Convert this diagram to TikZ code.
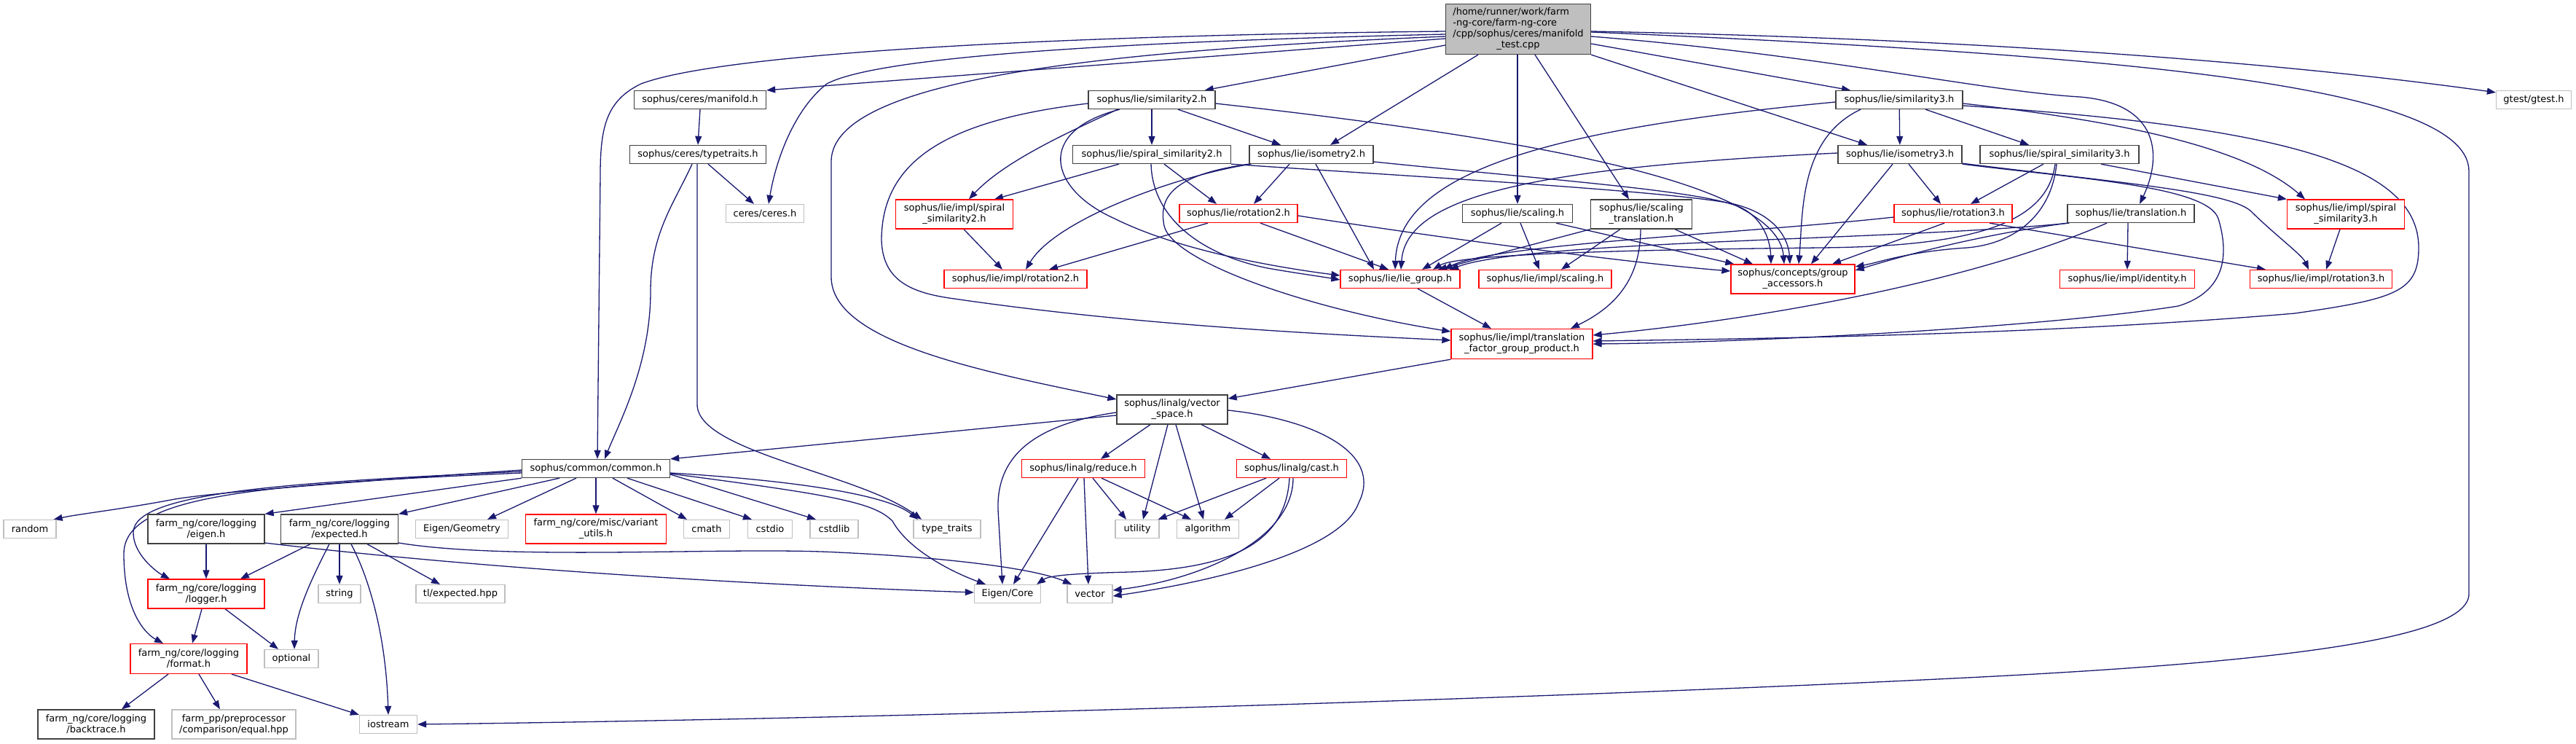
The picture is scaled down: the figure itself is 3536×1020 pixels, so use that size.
\documentclass[tikz,border=0pt]{standalone}
\usepackage{fontspec}
\setmainfont{DejaVu Sans}
\usetikzlibrary{arrows.meta}
\definecolor{edgec}{HTML}{191970}
\definecolor{leafc}{HTML}{BFBFBF}
\definecolor{docc}{HTML}{404040}
\pgfdeclarelayer{background}
\pgfsetlayers{background,main}
\begin{document}
\begin{tikzpicture}[x=1pt,y=-1pt,
  box/.style={draw, fill=white, minimum height=25, inner xsep=1pt, inner ysep=1pt, align=center, font=\fontsize{13}{15}\selectfont, line width=1.3},
  doc/.style={box, draw=docc},
  leaf/.style={box, draw=leafc},
  trunc/.style={box, draw=red},
  topnode/.style={box, draw=docc, fill=leafc, minimum height=69},
  e/.style={draw=edgec, line width=1.3, -{Triangle[length=12pt,width=9pt]}},
]
\useasboundingbox (0,0) rectangle (3536,1020);
% ---------------- nodes ----------------
\node[topnode, minimum width=199] (T) at (2084,40) {\begin{tabular}{@{}l@{}}/home/runner/work/farm\\-ng-core/farm-ng-core\\/cpp/sophus/ceres/manifold\\\multicolumn{1}{@{}c@{}}{\_test.cpp}\end{tabular}};
\node[doc, minimum width=181] (manifold) at (961,137) {sophus/ceres/manifold.h};
\node[doc, minimum width=187] (typetraits) at (958,212) {sophus/ceres/typetraits.h};
\node[leaf, minimum width=107] (ceres) at (1050,293) {ceres/ceres.h};
\node[doc, minimum width=174] (sim2) at (1581,137) {sophus/lie/similarity2.h};
\node[doc, minimum width=217] (ssim2) at (1581,212) {sophus/lie/spiral\_similarity2.h};
\node[doc, minimum width=170] (iso2) at (1800,212) {sophus/lie/isometry2.h};
\node[trunc, minimum width=161, minimum height=40] (impssim2) at (1310,294) {sophus/lie/impl/spiral\\\_similarity2.h};
\node[trunc, minimum width=162] (rot2) at (1700,293) {sophus/lie/rotation2.h};
\node[trunc, minimum width=196] (improt2) at (1394,383) {sophus/lie/impl/rotation2.h};
\node[trunc, minimum width=164] (liegroup) at (1922,383) {sophus/lie/lie\_group.h};
\node[trunc, minimum width=182] (impscaling) at (2121,383) {sophus/lie/impl/scaling.h};
\node[trunc, minimum width=170, minimum height=40] (grpacc) at (2461,383) {sophus/concepts/group\\\_accessors.h};
\node[trunc, minimum width=194, minimum height=41] (tfgp) at (2089,472) {sophus/lie/impl/translation\\\_factor\_group\_product.h};
\node[doc, minimum width=151] (scaling) at (2083,293) {sophus/lie/scaling.h};
\node[doc, minimum width=139, minimum height=40] (scaltr) at (2253,294) {sophus/lie/scaling\\\_translation.h};
\node[doc, minimum width=174] (sim3) at (2607,137) {sophus/lie/similarity3.h};
\node[doc, minimum width=170] (iso3) at (2608,212) {sophus/lie/isometry3.h};
\node[trunc, minimum width=162] (rot3) at (2681,293) {sophus/lie/rotation3.h};
\node[doc, minimum width=218] (ssim3) at (2827,212) {sophus/lie/spiral\_similarity3.h};
\node[doc, minimum width=174] (transl) at (2925,293) {sophus/lie/translation.h};
\node[trunc, minimum width=161, minimum height=40] (impssim3) at (3220,294) {sophus/lie/impl/spiral\\\_similarity3.h};
\node[trunc, minimum width=185] (impident) at (2920,383) {sophus/lie/impl/identity.h};
\node[trunc, minimum width=195] (improt3) at (3186,383) {sophus/lie/impl/rotation3.h};
\node[leaf, minimum width=103] (gtest) at (3478,137) {gtest/gtest.h};
\node[doc, minimum width=152, minimum height=40] (vecspace) at (1609,562) {sophus/linalg/vector\\\_space.h};
\node[doc, minimum width=203] (common) at (818,643) {sophus/common/common.h};
\node[trunc, minimum width=169] (reduce) at (1487,643) {sophus/linalg/reduce.h};
\node[trunc, minimum width=151] (cast) at (1773,643) {sophus/linalg/cast.h};
\node[leaf, minimum width=72] (random) at (41,726) {random};
\node[doc, minimum width=160, minimum height=40] (eigenh) at (283,726) {farm\_ng/core/logging\\/eigen.h};
\node[doc, minimum width=161, minimum height=40] (expected) at (466,726) {farm\_ng/core/logging\\/expected.h};
\node[leaf, minimum width=127] (eigengeo) at (634,726) {Eigen/Geometry};
\node[trunc, minimum width=193, minimum height=40] (variant) at (818,726) {farm\_ng/core/misc/variant\\\_utils.h};
\node[leaf, minimum width=63] (cmath) at (970,726) {cmath};
\node[leaf, minimum width=61] (cstdio) at (1057,726) {cstdio};
\node[leaf, minimum width=66] (cstdlib) at (1145,726) {cstdlib};
\node[leaf, minimum width=92] (typetr) at (1300,726) {type\_traits};
\node[leaf, minimum width=60] (utility) at (1561,726) {utility};
\node[leaf, minimum width=85] (algorithm) at (1658,726) {algorithm};
\node[trunc, minimum width=160, minimum height=40] (logger) at (283,815) {farm\_ng/core/logging\\/logger.h};
\node[leaf, minimum width=58] (string) at (466,815) {string};
\node[leaf, minimum width=122] (tlexp) at (632,815) {tl/expected.hpp};
\node[leaf, minimum width=91] (eigencore) at (1383,815) {Eigen/Core};
\node[leaf, minimum width=62] (vector) at (1496,815) {vector};
\node[trunc, minimum width=160, minimum height=41] (format) at (259,904) {farm\_ng/core/logging\\/format.h};
\node[leaf, minimum width=74] (optional) at (400,904) {optional};
\node[doc, minimum width=160, minimum height=40] (backtrace) at (132,994) {farm\_ng/core/logging\\/backtrace.h};
\node[leaf, minimum width=170, minimum height=40] (equal) at (321,994) {farm\_pp/preprocessor\\/comparison/equal.hpp};
\node[leaf, minimum width=79] (iostream) at (533,994) {iostream};
% ---------------- edges ----------------
\begin{pgfonlayer}{background}
\fill[white] (0,0) rectangle (3536,1020);
% top file
\draw[e] ([yshift=-3]T.west) .. controls (1500,48) and (1000,70) .. (880,115) .. controls (832,138) and (824,175) .. (824,240) -- ([xshift=2]common.north);
\draw[e] ([yshift=-7]T.west) .. controls (1500,58) and (1200,80) .. (1135,115) .. controls (1090,150) and (1065,220) .. ([xshift=5]ceres.north);
\draw[e] ([yshift=-10]T.west) .. controls (1500,70) and (1145,110) .. (1141,220) -- (1141,380) .. controls (1141,470) and (1350,510) .. ([yshift=14]vecspace.west);
\draw[e] ([yshift=-13]T.west) -- (manifold.north east);
\draw[e] ([yshift=-22]T.west) -- ([xshift=-15]sim2.north east);
\draw[e] ([xshift=-55]T.south) -- ([xshift=26]iso2.north);
\draw[e] ([xshift=-1]T.south) -- (scaling.north);
\draw[e] ([xshift=23]T.south) -- ([xshift=-17]scaltr.north);
\draw[e] ([yshift=-20]T.east) -- ([xshift=-67]sim3.north);
\draw[e] (T.south east) -- ([xshift=-45]iso3.north);
\draw[e] ([yshift=-10]T.east) .. controls (2500,75) and (2720,125) .. (2855,133) .. controls (2965,142) and (2968,215) .. ([xshift=12]transl.north);
\draw[e] ([yshift=-3]T.east) .. controls (2800,55) and (3200,95) .. ([yshift=-3]gtest.north west);
\draw[e] ([yshift=-4]T.east) .. controls (2900,75) and (3389,115) .. (3389,235) -- (3389,815) .. controls (3389,880) and (3100,910) .. (2700,930) .. controls (2200,955) and (1300,985) .. (iostream.east);
% ceres part
\draw[e] (manifold.south) -- (typetraits.north);
\draw[e] ([xshift=14]typetraits.south) -- ([xshift=-15]ceres.north);
\draw[e] ([xshift=-8]typetraits.south) .. controls (925,280) and (893,320) .. (893,400) .. controls (893,500) and (850,580) .. ([xshift=12]common.north);
\draw[e] ([xshift=-1]typetraits.south) -- (957,555) .. controls (957,620) and (1180,650) .. ([xshift=-35]typetr.north);
% similarity2
\draw[e] ([yshift=-5]sim2.west) .. controls (1300,165) and (1210,220) .. (1210,330) .. controls (1212,385) and (1250,402) .. (1310,410) .. controls (1550,445) and (1800,458) .. ([yshift=5]tfgp.west);
\draw[e] ([xshift=-47]sim2.south) .. controls (1470,180) and (1380,220) .. ([xshift=20]impssim2.north);
\draw[e] (sim2) -- (ssim2);
\draw[e] ([xshift=36]sim2.south) -- ([xshift=-42]iso2.north);
\draw[e] ([xshift=-44]sim2.south) .. controls (1420,180) and (1440,260) .. (1530,300) .. controls (1620,345) and (1760,368) .. ([yshift=5]liegroup.west);
\draw[e] ([yshift=-5]sim2.east) .. controls (2100,190) and (2440,250) .. ([xshift=-12]grpacc.north);
% spiral_similarity2
\draw[e] ([xshift=-45]ssim2.south) -- ([xshift=55]impssim2.north);
\draw[e] ([xshift=17]ssim2.south) -- ([xshift=-30]rot2.north);
\draw[e] ([xshift=-1]ssim2.south) .. controls (1582,300) and (1650,350) .. (1740,368) .. controls (1780,375) and (1810,379) .. ([yshift=-1]liegroup.west);
\draw[e] (ssim2.south east) .. controls (1900,240) and (2300,262) .. (2380,280) .. controls (2440,295) and (2455,330) .. ([xshift=-4]grpacc.north);
% isometry2
\draw[e] ([xshift=-30]iso2.south) -- ([xshift=21]rot2.north);
\draw[e] ([xshift=3]iso2.south west) .. controls (1620,240) and (1450,300) .. ([xshift=14]improt2.north);
\draw[e] (iso2.south west) .. controls (1610,240) and (1590,270) .. (1598,310) .. controls (1610,360) and (1800,425) .. ([yshift=17]tfgp.west);
\draw[e] ([xshift=6]iso2.south) -- ([xshift=-36]liegroup.north);
\draw[e] ([yshift=-10]iso2.east) .. controls (2150,249) and (2340,262) .. (2390,285) .. controls (2420,300) and (2430,330) .. ([xshift=-30]grpacc.north);
% rotation2
\draw[e] ([xshift=-42]rot2.south) -- ([xshift=46]improt2.north);
\draw[e] ([xshift=30]rot2.south) -- ([xshift=-16]liegroup.north);
\draw[e] ([yshift=-3]rot2.east) .. controls (2000,330) and (2250,362) .. ([yshift=11]grpacc.west);
\draw[e] ([xshift=13]impssim2.south) -- ([xshift=-18]improt2.north);
% scaling
\draw[e] ([xshift=-22]scaling.south) -- ([xshift=30]liegroup.north);
\draw[e] ([xshift=4]scaling.south) -- ([xshift=-8]impscaling.north);
\draw[e] ([xshift=53]scaling.south) -- ([xshift=5]grpacc.north west);
\draw[e] (scaltr.south west) -- ([xshift=52]liegroup.north);
\draw[e] ([xshift=-29]scaltr.south) -- ([xshift=22]impscaling.north);
\draw[e] ([xshift=-1]scaltr.south) .. controls (2252,380) and (2220,420) .. ([xshift=67]tfgp.north);
\draw[e] ([xshift=46]scaltr.south) -- ([xshift=-55]grpacc.north);
% similarity3
\draw[e] ([xshift=36]sim3.south) -- ([xshift=-42]ssim3.north);
\draw[e] (sim3) -- (iso3);
\draw[e] ([yshift=-5]sim3.east) .. controls (2900,165) and (3080,200) .. ([xshift=-56]impssim3.north);
\draw[e] ([yshift=-3]sim3.west) .. controls (2150,175) and (1920,230) .. ([xshift=-7]liegroup.north);
\draw[e] ([xshift=-53]sim3.south) .. controls (2470,190) and (2475,290) .. ([xshift=8]grpacc.north);
\draw[e] ([yshift=-8]sim3.east) .. controls (3150,175) and (3320,230) .. (3320,340) .. controls (3320,400) and (3290,410) .. (3150,430) .. controls (2800,460) and (2400,465) .. ([yshift=4]tfgp.east);
% isometry3
\draw[e] ([xshift=12]iso3.south) -- ([xshift=-17]rot3.north);
\draw[e] ([yshift=2]iso3.west) .. controls (2100,230) and (1930,270) .. ([xshift=1]liegroup.north);
\draw[e] ([xshift=-10]iso3.south) -- ([xshift=25]grpacc.north);
\draw[e] (iso3.south east) .. controls (2850,245) and (3030,255) .. (3045,300) .. controls (3060,350) and (3055,400) .. (2990,420) .. controls (2800,450) and (2400,470) .. (tfgp.east);
\draw[e] ([yshift=1]iso3.south east) .. controls (2900,250) and (3060,262) .. (3090,290) .. controls (3120,320) and (3160,350) .. ([xshift=-17]improt3.north);
% spiral_similarity3
\draw[e] ([xshift=-22]ssim3.south) -- ([xshift=24]rot3.north);
\draw[e] ([xshift=57]ssim3.south) -- (impssim3.north west);
\draw[e] ([xshift=-4]ssim3.south) .. controls (2815,300) and (2760,335) .. (2700,340) .. controls (2620,345) and (2580,360) .. ([yshift=17]grpacc.east);
\draw[e] ([xshift=-6]ssim3.south) .. controls (2810,310) and (2700,338) .. (2500,340) .. controls (2200,343) and (2000,350) .. ([xshift=45]liegroup.north);
% rotation3
\draw[e] ([xshift=50]rot3.south) -- ([xshift=-76]improt3.north);
\draw[e] ([yshift=-5]rot3.west) .. controls (2400,320) and (2050,335) .. ([xshift=60]liegroup.north);
\draw[e] ([xshift=-12]rot3.south) -- ([xshift=54]grpacc.north);
% translation
\draw[e] ([xshift=-4]transl.south) -- (impident.north);
\draw[e] ([xshift=-33]transl.south) .. controls (2700,390) and (2400,440) .. ([yshift=12]tfgp.east);
\draw[e] (transl.south west) .. controls (2700,325) and (2600,355) .. ([yshift=12]grpacc.east);
\draw[e] ([xshift=3]transl.south west) .. controls (2600,330) and (2100,330) .. ([xshift=68]liegroup.north);
% lie group etc
\draw[e] ([xshift=24]liegroup.south) -- ([xshift=-42]tfgp.north);
\draw[e] ([xshift=-8]impssim3.south) -- ([xshift=7]improt3.north);
\draw[e] (tfgp.south west) -- ([yshift=15]vecspace.east);
% vector_space
\draw[e] ([yshift=-8]vecspace.west) -- (common.north east);
\draw[e] ([xshift=-30]vecspace.south) -- ([xshift=24]reduce.north);
\draw[e] ([xshift=40]vecspace.south) -- ([xshift=-29]cast.north);
\draw[e] ([yshift=-4]vecspace.west) .. controls (1400,585) and (1368,640) .. (1370,700) -- ([xshift=-7]eigencore.north);
\draw[e] ([xshift=-6]vecspace.south) -- ([xshift=8]utility.north);
\draw[e] ([xshift=5]vecspace.south) -- ([xshift=-6]algorithm.north);
\draw[e] ([yshift=-1]vecspace.east) .. controls (1800,575) and (1900,620) .. (1865,690) .. controls (1840,760) and (1650,800) .. ([yshift=-3]vector.east);
% reduce
\draw[e] ([xshift=-7]reduce.south) -- ([xshift=8]eigencore.north);
\draw[e] ([xshift=1]reduce.south) -- ([xshift=-2]vector.north);
\draw[e] ([xshift=13]reduce.south) -- ([xshift=-15]utility.north);
\draw[e] ([xshift=25]reduce.south) -- ([xshift=-23]algorithm.north);
% cast
\draw[e] ([xshift=-35]cast.south) -- ([xshift=-2]utility.north east);
\draw[e] ([xshift=-17]cast.south) -- ([xshift=23]algorithm.north);
\draw[e] ([xshift=-3]cast.south) .. controls (1765,740) and (1700,780) .. (1550,785) .. controls (1470,787) and (1440,790) .. ([xshift=40]eigencore.north);
\draw[e] ([xshift=2]cast.south) .. controls (1775,740) and (1650,795) .. ([yshift=5]vector.east);
% common
\draw[e] ([yshift=-2]common.west) .. controls (500,660) and (300,675) .. (240,685) .. controls (160,700) and (110,705) .. ([xshift=-4]random.north east);
\draw[e] ([yshift=-4]common.west) .. controls (400,662) and (185,675) .. (183,730) .. controls (182,760) and (215,785) .. ([xshift=-50]logger.north);
\draw[e] ([yshift=-6]common.west) .. controls (350,665) and (170,680) .. (170,760) .. controls (170,840) and (200,870) .. ([xshift=-35]format.north);
\draw[e] (common.south west) -- (eigenh.north east);
\draw[e] ([xshift=-50]common.south) -- (expected.north east);
\draw[e] ([xshift=-27]common.south) -- ([xshift=35]eigengeo.north);
\draw[e] (common.south) -- (variant.north);
\draw[e] ([xshift=23]common.south) -- ([xshift=-27]cmath.north);
\draw[e] ([xshift=43]common.south) -- ([xshift=-25]cstdio.north);
\draw[e] ([yshift=-8]common.east) -- ([xshift=-25]cstdlib.north);
\draw[e] ([yshift=-6]common.east) .. controls (1100,660) and (1220,680) .. ([xshift=-40]typetr.north);
\draw[e] ([yshift=-7]common.east) .. controls (1150,680) and (1200,690) .. (1225,715) .. controls (1250,760) and (1320,790) .. ([xshift=-30]eigencore.north);
% logging
\draw[e] (eigenh) -- (logger);
\draw[e] ([yshift=-19]eigenh.east) .. controls (700,785) and (1100,805) .. ([yshift=2]eigencore.west);
\draw[e] ([xshift=-40]expected.south) -- ([xshift=47]logger.north);
\draw[e] ([xshift=-14]expected.south) .. controls (430,790) and (405,840) .. ([xshift=4]optional.north);
\draw[e] (expected.south) -- (string.north);
\draw[e] ([xshift=16]expected.south) .. controls (510,800) and (530,880) .. (iostream.north);
\draw[e] ([xshift=38]expected.south) -- ([xshift=-28]tlexp.north);
\draw[e] ([yshift=-19]expected.east) .. controls (700,770) and (1000,750) .. (1150,758) .. controls (1300,765) and (1420,780) .. ([xshift=-25]vector.north);
\draw[e] ([xshift=-6]logger.south) -- ([xshift=5]format.north);
\draw[e] ([xshift=26]logger.south) -- ([xshift=-18]optional.north);
\draw[e] ([xshift=-28]format.south) -- ([xshift=35]backtrace.north);
\draw[e] ([xshift=14]format.south) -- ([xshift=-19]equal.north);
\draw[e] ([xshift=59]format.south) -- (iostream.north west);
\end{pgfonlayer}
\end{tikzpicture}
\end{document}
